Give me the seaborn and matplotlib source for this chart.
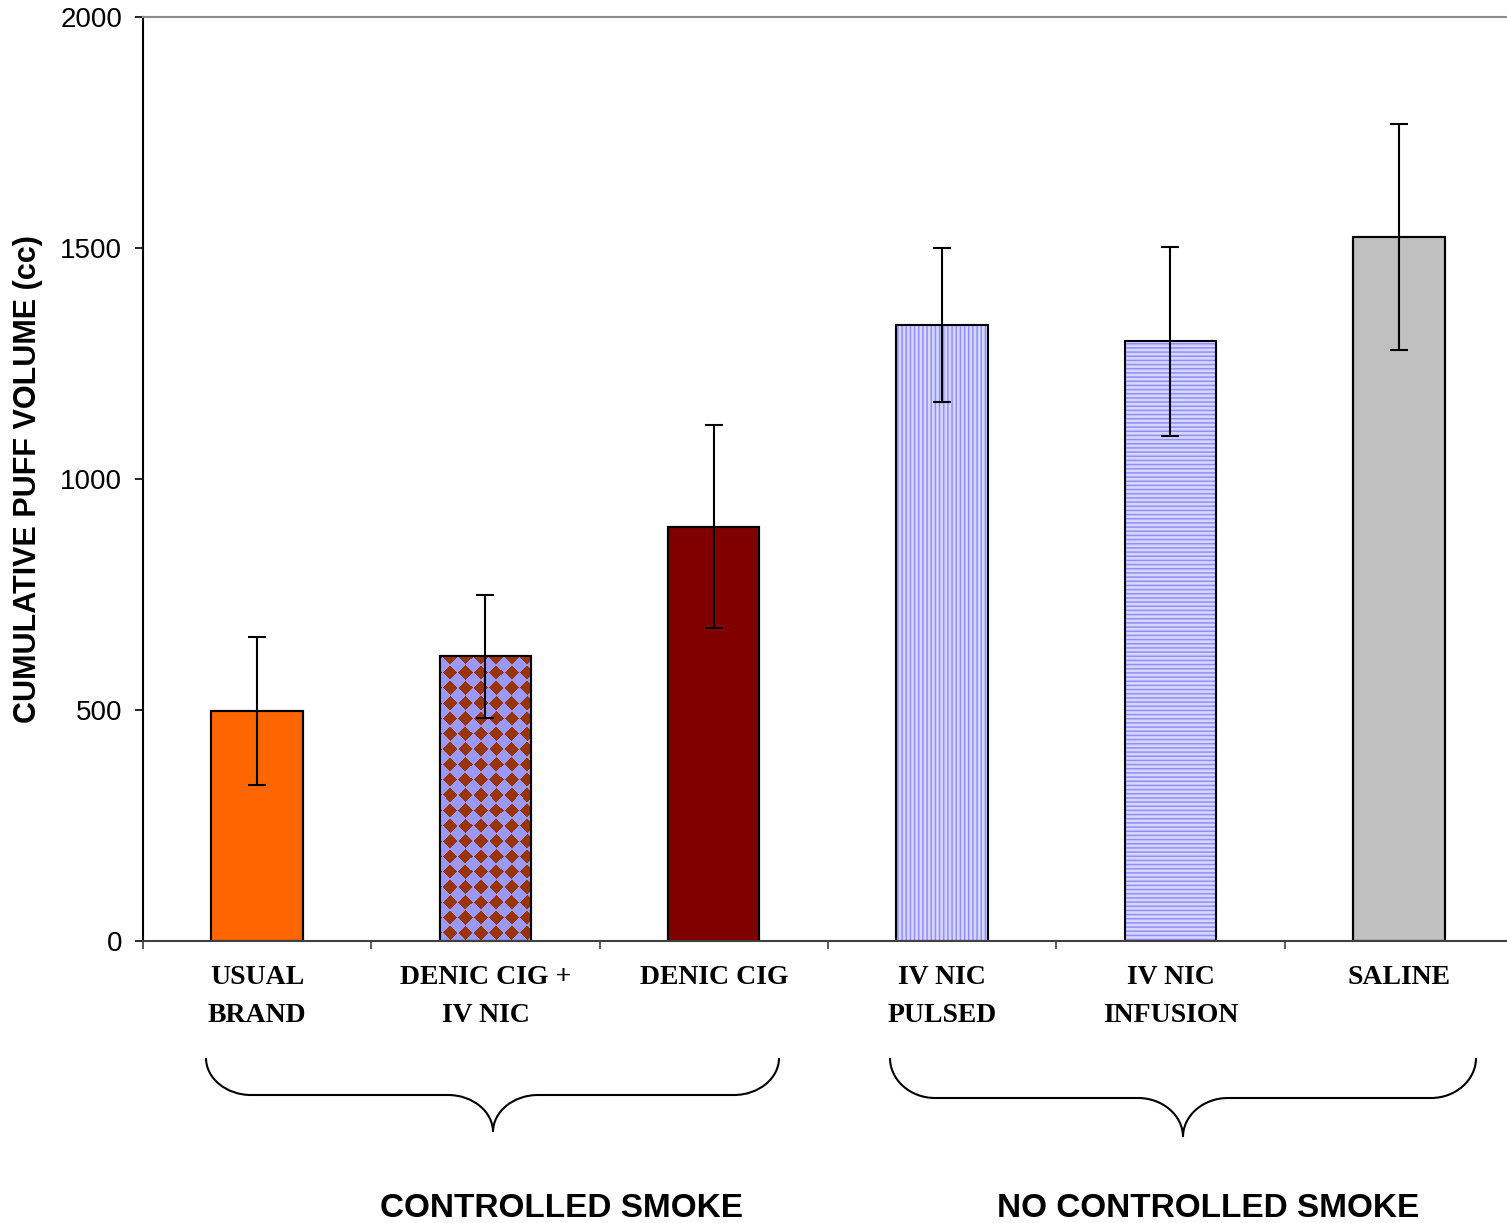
import numpy as np
import matplotlib
matplotlib.use('Agg')
import matplotlib.pyplot as plt
import matplotlib.colors as mcolors
import seaborn as sns
from matplotlib.path import Path
from matplotlib.patches import PathPatch, Rectangle

# data
categories = ['USUAL\nBRAND', 'DENIC CIG +\nIV NIC', 'DENIC CIG',
              'IV NIC\nPULSED', 'IV NIC\nINFUSION', 'SALINE']
volumes = [498, 616, 897, 1334, 1298, 1524]
errors = [161, 134, 220, 167, 205, 245]
groups = ['CONTROLLED SMOKE', 'NO CONTROLLED SMOKE']
yticks = [0, 500, 1000, 1500, 2000]

bar_colors = ['#ff6600', '#9999ff', '#800000', '#d6d6ff', '#d6d6ff', '#c0c0c0']

sns.set_style('ticks')
plt.rcParams['font.family'] = ['Liberation Sans', 'DejaVu Sans']
plt.rcParams['hatch.linewidth'] = 1.1
plt.rcParams['text.color'] = 'black'
plt.rcParams['axes.labelcolor'] = 'black'
plt.rcParams['xtick.color'] = 'black'
plt.rcParams['ytick.color'] = 'black'

W, H = 1507, 1223
fig = plt.figure(figsize=(W / 100, H / 100), dpi=100)
ax = fig.add_axes([143 / W, 1 - 941 / H, 1370 / W, 924 / H])

sns.barplot(x=categories, y=volumes, hue=categories, palette=bar_colors,
            legend=False, width=0.4, errorbar=None, saturation=1,
            edgecolor='black', linewidth=1.5, ax=ax)

ax.set_xlim(-0.5, 5.5)
ax.set_ylim(0, 2000)

bars = ax.patches[:6]

# checkered bar (DENIC CIG + IV NIC): brown diamonds on blue
p = bars[1]
bx0, bx1, bh = p.get_x(), p.get_x() + p.get_width(), p.get_height()
(px0, py0) = ax.transData.transform((bx0, 0))
(px1, py1) = ax.transData.transform((bx1, bh))
s = 4
nx, ny = int((px1 - px0) * s), int((py1 - py0) * s)
U, V = np.meshgrid((np.arange(nx) + 0.5) / s, (np.arange(ny) + 0.5) / s)
per = 15.3
du = np.mod(U - 10, per); du = np.minimum(du, per - du)
dv = np.mod(V - 8, per); dv = np.minimum(dv, per - dv)
mask = (du + dv) < 0.47 * per
img = np.where(mask[..., None], np.array(mcolors.to_rgb('#993300')),
               np.array(mcolors.to_rgb('#9999ff')))
im = ax.imshow(img, extent=(bx0, bx1, 0, bh), origin='lower', aspect='auto',
               interpolation='nearest', zorder=p.get_zorder() + 0.1)
im.set_clip_path(p)

# striped bars (IV NIC pulsed / infusion)
for p, hatch in [(bars[3], '||||'), (bars[4], '----')]:
    p.set_hatch(hatch)
    p.set_edgecolor('#8f8fff')
    p.set_linewidth(0)

for p in bars:
    ax.add_patch(Rectangle((p.get_x(), 0), p.get_width(), p.get_height(),
                           facecolor='none', edgecolor='black', linewidth=1.5,
                           zorder=p.get_zorder() + 0.2))

ax.errorbar(range(len(volumes)), volumes, yerr=errors, fmt='none',
            ecolor='black', elinewidth=1.5, capsize=6.5, capthick=1.5, zorder=5)

ax.set_xlim(-0.5, 5.5)
ax.set_ylim(0, 2000)
ax.set_yticks(yticks)
ax.tick_params(axis='y', length=6, width=1.2, pad=9, labelsize=20, colors='black')
ax.set_xticks(range(len(categories)))
ax.set_xticklabels(categories, fontfamily='Liberation Serif', fontweight='bold',
                   fontsize=20)
for t in ax.get_xticklabels():
    t.set_linespacing(1.7)
ax.set_xticks(np.arange(-0.5, 6, 1), minor=True)
ax.tick_params(axis='x', which='major', length=0, pad=17, labelcolor='black')
ax.tick_params(axis='x', which='minor', length=6, width=1.2, color='#404040')

ax.spines['right'].set_visible(False)
ax.spines['top'].set_color('#8c8c8c')
ax.spines['bottom'].set_color('#404040')
ax.spines['left'].set_color('black')
for sp in ['top', 'bottom', 'left']:
    ax.spines[sp].set_linewidth(1.5)

ax.set_ylabel('CUMULATIVE PUFF VOLUME (cc)', fontsize=22, fontweight='bold',
              color='black')
ax.yaxis.set_label_coords(-0.073, 0.5)
ax.set_xlabel('')

# overlay in pixel coordinates for braces and group labels
ov = fig.add_axes([0, 0, 1, 1])
ov.set_xlim(0, W)
ov.set_ylim(H, 0)
ov.axis('off')


def brace(x0, x1, xt, ytop, ymid, ytip, r=45):
    k = 0.55
    d1, d2 = ymid - ytop, ytip - ymid
    verts = [(x0, ytop),
             (x0, ytop + k * d1), (x0 + r * (1 - k), ymid), (x0 + r, ymid),
             (xt - r, ymid),
             (xt - r * (1 - k), ymid), (xt, ytip - k * d2), (xt, ytip),
             (xt, ytip - k * d2), (xt + r * (1 - k), ymid), (xt + r, ymid),
             (x1 - r, ymid),
             (x1 - r * (1 - k), ymid), (x1, ytop + k * d1), (x1, ytop)]
    codes = ([Path.MOVETO] + [Path.CURVE4] * 3 + [Path.LINETO] + [Path.CURVE4] * 6
             + [Path.LINETO] + [Path.CURVE4] * 3)
    ov.add_patch(PathPatch(Path(verts, codes), facecolor='none',
                           edgecolor='black', linewidth=1.5))


brace(206, 779, 493, 1058, 1095, 1132)
brace(890, 1476, 1183, 1058, 1098, 1137)

ov.text(562, 1217, groups[0], ha='center', va='baseline', fontsize=24,
        fontweight='bold', color='black')
ov.text(1208, 1217, groups[1], ha='center', va='baseline', fontsize=24,
        fontweight='bold', color='black')

fig.savefig('out.png', dpi=100)
